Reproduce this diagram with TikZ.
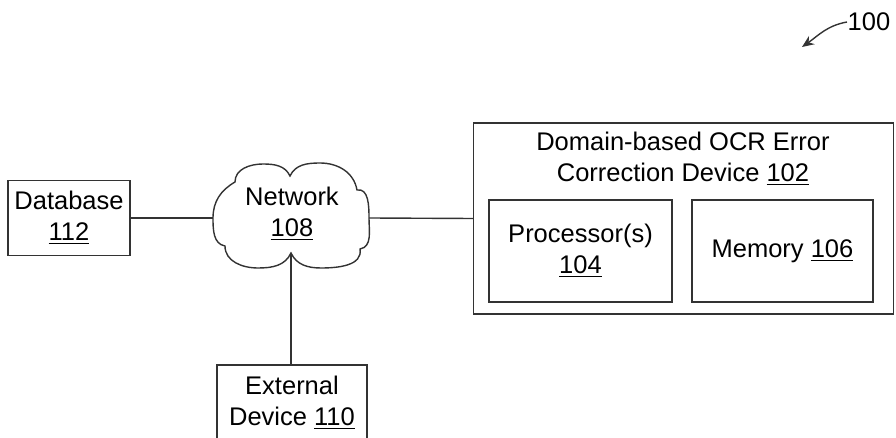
\documentclass[tikz,border=0pt]{standalone}
\usepackage{fontspec}
\setmainfont{Liberation Sans}
\usetikzlibrary{arrows.meta}

\begin{document}
\begin{tikzpicture}[x=0.5pt,y=-0.5pt]
\tikzstyle{blk}=[draw=black!80,line width=0.7pt,align=center,inner sep=0pt,font=\fontsize{12.75}{15.5}\selectfont]
\tikzstyle{wire}=[draw=black!80,line width=0.7pt]
\useasboundingbox (0,0) rectangle (896,438);
\clip (0,0) rectangle (896,438);
\node [blk,minimum width=61pt,minimum height=37.5pt] (db) at (69,218) {Database\\\underline{112}};
% network cloud
\draw [wire] (213,218) to[out=90,in=210] (235,182)
  to[out=90,in=180] (263,164) to[out=0,in=115] (290,176)
  to[out=65,in=180] (320,163) to[out=0,in=100] (357,190)
  to[out=10,in=90] (369,218) to[out=-90,in=10] (360,249)
  to[out=-80,in=0] (321,268) to[out=180,in=-65] (291,253)
  to[out=-115,in=0] (258,268) to[out=180,in=-90] (225,246)
  to[out=170,in=-90] (213,218) -- cycle;
\node [blk,draw=none] (net) at (292,214) {Network\\\underline{108}};
\coordinate (netw) at (213,218);
\coordinate (nete) at (369,218);
\coordinate (nets) at (291,253);
\node [blk,minimum width=210pt,minimum height=95.5pt] (ocr) at (683.5,218.5) {};
\node [blk,draw=none] (ocrlbl) at (683,159) {Domain-based OCR Error\\Correction Device \underline{102}};
\node [blk,minimum width=91.5pt,minimum height=51pt] (proc) at (580.5,251) {Processor(s)\\\underline{104}};
\node [blk,minimum width=90.5pt,minimum height=51pt] (mem) at (782.5,251) {Memory \underline{106}};
\node [blk,minimum width=75pt,minimum height=38pt] (ext) at (292,403) {External\\Device \underline{110}};
\node [blk,draw=none] (lbl) at (869,22) {100};
\coordinate (tip) at (802,47);
\draw [wire] (db.east) -- (netw);
\draw [wire] (nete) -- (ocr.west);
\draw [wire] (nets) -- (nets |- ext.north);
\draw [wire,-{Stealth[length=6pt,width=5pt]}] (lbl.west) to[out=190,in=35] (tip);
\end{tikzpicture}
\end{document}
